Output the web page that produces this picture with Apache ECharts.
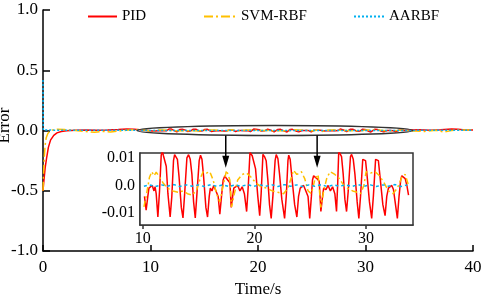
<!DOCTYPE html>
<html><head><meta charset="utf-8">
<script src="https://cdn.jsdelivr.net/npm/echarts@6/dist/echarts.min.js"></script>
<style>html,body{margin:0;padding:0;background:#fff}#c{width:484px;height:295px}</style>
</head><body><div id="c"></div>
<script>
const seriesNames = ['PID', 'SVM-RBF', 'AARBF'];
const xTicks = [0, 10, 20, 30, 40];
const yTickLabels = ['-1.0', '-0.5', '0.0', '0.5', '1.0'];
const insetXTicks = [10, 20, 30];
const insetYTicks = [-0.01, 0, 0.01];
const insetYTickLabels = ['-0.01', '0.0', '0.01'];
const insetRange = [10.1, 33.8];

// [time (s), error]
const pidData = [
  [0,-0.5],[0.08,-0.42],[0.2,-0.31],[0.35,-0.22],[0.5,-0.14],[0.7,-0.08],[1.0,-0.04],[1.3,-0.02],[1.7,-0.008],[2.2,-0.002],
  [3,0.002],[4,0.004],[5,0.002],[6,0.005],[7,0.009],[7.8,0.013],[8.5,0.011],[9.2,0.005],[9.8,0.0],
  [10.15,-0.004],[10.3,-0.009],[10.45,-0.004],[10.55,-0.001],[10.7,-0.0015],[10.85,0.0],[11.0,-0.002],[11.1,-0.0005],[11.2,-0.003],
  [11.35,-0.0115],[11.5,-0.002],[11.65,0.011],[11.75,0.0125],[11.85,0.0108],[11.95,0.0115],[12.1,0.007],[12.25,-0.003],
  [12.45,-0.0115],[12.6,-0.004],[12.75,0.009],[12.85,0.0112],[12.95,0.0105],[13.1,0.0095],[13.25,0.003],[13.45,-0.008],
  [13.6,-0.0118],[13.75,-0.003],[13.95,0.01],[14.1,0.0112],[14.25,0.0095],[14.4,0.004],[14.55,-0.006],
  [14.7,-0.0118],[14.85,-0.003],[15.05,0.009],[15.17,0.011],[15.3,0.0095],[15.45,0.003],[15.65,-0.008],
  [15.8,-0.0115],[15.95,-0.004],[16.05,-0.001],[16.2,-0.002],[16.35,0.0],[16.5,-0.0015],[16.65,-0.001],[16.75,-0.004],
  [16.9,-0.0105],[17.05,-0.004],[17.2,0.002],[17.35,0.0035],[17.5,0.0025],[17.65,0.0028],[17.8,0.001],
  [17.92,-0.008],[18.05,-0.004],[18.15,-0.001],[18.3,-0.0015],[18.5,0.0],[18.7,-0.002],[18.9,-0.0005],[19.1,-0.003],
  [19.3,-0.0095],[19.45,0.0],[19.6,0.012],[19.7,0.0125],[19.8,0.0108],[19.95,0.0113],[20.1,0.006],[20.3,-0.004],
  [20.47,-0.011],[20.6,-0.003],[20.76,0.0113],[20.9,0.0105],[21.05,0.009],[21.2,0.002],[21.35,-0.007],
  [21.5,-0.012],[21.65,-0.004],[21.85,0.009],[21.95,0.0112],[22.1,0.0098],[22.25,0.004],[22.45,-0.005],
  [22.7,-0.012],[22.85,-0.004],[23.0,0.009],[23.07,0.011],[23.2,0.0095],[23.35,0.003],[23.6,-0.007],
  [23.8,-0.0115],[23.95,-0.004],[24.1,-0.001],[24.25,-0.0015],[24.4,0.0],[24.55,-0.0015],[24.7,-0.001],[24.8,-0.004],
  [24.95,-0.012],[25.1,-0.004],[25.2,0.002],[25.3,0.0035],[25.45,0.0028],[25.6,0.0025],[25.8,0.0015],
  [25.95,-0.0095],[26.1,-0.004],[26.2,-0.001],[26.4,-0.0015],[26.6,0.0],[26.8,-0.002],[27.0,-0.0005],[27.2,-0.003],
  [27.35,-0.0095],[27.45,0.0],[27.55,0.0125],[27.65,0.0125],[27.8,0.0105],[27.95,0.004],[28.1,-0.005],
  [28.25,-0.0095],[28.4,-0.002],[28.6,0.0105],[28.7,0.0113],[28.85,0.0095],[29.0,0.004],[29.2,-0.006],
  [29.35,-0.012],[29.5,-0.004],[29.7,0.0095],[29.8,0.0102],[29.95,0.009],[30.1,0.003],[30.3,-0.006],
  [30.5,-0.012],[30.65,-0.004],[30.85,0.0095],[30.95,0.0102],[31.1,0.009],[31.25,0.003],[31.5,-0.007],
  [31.7,-0.011],[31.85,-0.004],[32.0,-0.001],[32.15,-0.0015],[32.3,0.0],[32.45,-0.0015],[32.6,-0.002],
  [32.8,-0.012],[32.95,-0.004],[33.1,0.002],[33.2,0.0035],[33.35,0.0028],[33.5,0.0025],[33.65,0.0],[33.8,-0.0035],
  [34.2,0.004],[35,0.006],[36,0.003],[37,0.007],[38,0.012],[38.6,0.01],[39.3,0.005],[40,0.004]
];
const svmData = [
  [0,-0.5],[0.05,-0.36],[0.12,-0.22],[0.2,-0.12],[0.3,-0.06],[0.45,-0.025],[0.65,-0.005],[0.9,0.005],[1.3,0.01],[2,0.008],
  [3,0.0],[4,-0.008],[4.8,-0.015],[5.5,-0.008],[6.3,-0.012],[7,-0.005],[8,0.005],[9,0.008],[9.6,0.002],
  [10.1,-0.0078],[10.3,-0.004],[10.6,0.003],[10.8,0.005],[11.0,0.0035],[11.2,0.0048],[11.5,0.003],[11.8,0.001],
  [12.2,-0.001],[12.7,-0.002],[13.2,-0.0025],[13.6,-0.002],[14.0,-0.003],[14.4,-0.0035],[14.8,-0.002],[15.1,0.002],
  [15.4,0.005],[15.7,0.0045],[16.0,0.005],[16.3,0.002],[16.6,-0.003],[16.9,-0.006],[17.2,0.0],[17.5,0.0055],[17.8,0.002],
  [17.95,-0.0078],[18.2,-0.003],[18.5,0.002],[18.9,0.004],[19.3,0.0045],[19.7,0.003],[20.1,0.001],[20.6,-0.0005],
  [21.1,-0.001],[21.6,-0.002],[22.1,-0.0025],[22.6,-0.003],[23.0,-0.001],[23.5,0.0055],[23.8,0.004],[24.2,0.005],
  [24.5,0.0025],[24.8,-0.002],[25.1,-0.003],[25.4,0.002],[25.7,0.004],[25.95,-0.008],[26.2,-0.002],[26.5,0.003],
  [26.8,0.005],[27.2,0.004],[27.6,0.0025],[28.0,0.0],[28.3,-0.001],[28.8,-0.002],[29.2,-0.0025],[29.5,-0.003],
  [29.8,0.0],[30.0,0.005],[30.4,0.0045],[30.8,0.005],[31.2,0.0035],[31.6,0.001],[32.0,-0.002],[32.4,-0.003],
  [32.8,-0.001],[33.2,0.003],[33.5,0.004],[33.8,0.0],
  [34.5,-0.005],[35.5,-0.008],[36.5,0.002],[37.3,-0.012],[38,0.0],[39,0.005],[40,0.003]
];
const aarbfData = [
  [0,0.42],[0.03,0.004],[1,0.003],[2,0.002],[3,0.003],[4,0.002],[5,0.003],[6,0.002],[7,0.002],[8,0.003],[9,0.002],[9.8,0.001],
  [10.1,-0.0003],[10.6,0.0002],[11.1,-0.0004],[11.7,0.0002],[12.2,-0.0003],[12.8,0.0003],[13.3,-0.0004],[13.9,0.0002],
  [14.4,-0.0003],[15.0,0.0002],[15.5,-0.0004],[16.1,0.0003],[16.6,-0.0003],[17.2,0.0002],[17.7,-0.0004],[18.3,0.0002],
  [18.8,-0.0003],[19.4,0.0003],[19.9,-0.0004],[20.5,0.0002],[21.0,-0.0003],[21.6,0.0002],[22.1,-0.0004],[22.7,0.0003],
  [23.2,-0.0003],[23.8,0.0002],[24.3,-0.0004],[24.9,0.0002],[25.4,-0.0003],[26.0,0.0003],[26.5,-0.0004],[27.1,0.0002],
  [27.6,-0.0003],[28.2,0.0002],[28.7,-0.0004],[29.3,0.0003],[29.8,-0.0003],[30.4,0.0002],[30.9,-0.0004],[31.5,0.0002],
  [32.0,-0.0003],[32.6,0.0003],[33.1,-0.0004],[33.7,0.0002],
  [34.5,0.001],[36,0.002],[38,0.002],[40,0.002]
];
// zoomed annotation: ellipse span on main axis, arrow positions
const ellipseSpan = [8.75, 34.4];
const arrowTimes = [17.0, 25.5];

const FONT = 'Liberation Serif';
const colors = ['#ff0000', '#ffc000', '#00b0f0'];
const dashes = ['solid', [9, 3, 2, 3], [2, 2]];
const insetDashes = ['solid', [6, 3, 2, 3], [3, 3]];
const datasets = [pidData, svmData, aarbfData];
const inInset = d => d.filter(p => p[0] >= insetRange[0] && p[0] <= insetRange[1]);

const chart = echarts.init(document.getElementById('c'), null, {renderer: 'canvas'});

const series = [];
datasets.forEach((d, i) => {
  series.push({
    name: seriesNames[i], type: 'line', xAxisIndex: 0, yAxisIndex: 0, data: d,
    symbol: 'none', showSymbol: false, animation: false, z: 2 + i,
    lineStyle: {color: colors[i], width: 1.5, type: dashes[i]}, itemStyle: {color: colors[i]}
  });
});
datasets.forEach((d, i) => {
  series.push({
    name: seriesNames[i], type: 'line', xAxisIndex: 1, yAxisIndex: 1, data: inInset(d),
    symbol: 'none', showSymbol: false, animation: false, z: 2 + i,
    lineStyle: {color: colors[i], width: 1.5, type: insetDashes[i]}, itemStyle: {color: colors[i]}
  });
});

const legendBase = {
  top: 9, itemHeight: 14, selectedMode: false, padding: 0,
  itemStyle: {opacity: 0, borderWidth: 0},
  lineStyle: {width: 2},
  textStyle: {fontFamily: FONT, fontSize: 15, color: '#000'}
};

chart.setOption({
  animation: false,
  backgroundColor: '#fff',
  legend: [
    Object.assign({}, legendBase, {data: [seriesNames[0]], left: 87, itemWidth: 29}),
    Object.assign({}, legendBase, {data: [seriesNames[1]], left: 203, itemWidth: 32}),
    Object.assign({}, legendBase, {data: [seriesNames[2]], left: 353, itemWidth: 30})
  ],
  grid: [
    {left: 43, right: 11, top: 10, bottom: 44, containLabel: false, outerBoundsMode: 'none'},
    {left: 140, right: 71, top: 153, bottom: 70, containLabel: false, outerBoundsMode: 'none',
     show: true, backgroundColor: '#fff', borderColor: '#333', borderWidth: 1.5, z: 1}
  ],
  xAxis: [
    {
      type: 'value', gridIndex: 0, min: 0, max: 40, interval: 10,
      name: 'Time/s', nameLocation: 'middle', nameGap: 27,
      nameTextStyle: {fontFamily: FONT, fontSize: 17, color: '#000'},
      axisLine: {show: true, onZero: false, lineStyle: {color: '#000', width: 1.5}},
      axisTick: {show: true, inside: true, length: 6, lineStyle: {color: '#000', width: 1.5}},
      axisLabel: {fontFamily: FONT, fontSize: 17, color: '#000', margin: 8},
      splitLine: {show: false}
    },
    {
      type: 'value', gridIndex: 1, min: 9.75, max: 34.2,
      axisLine: {show: true, onZero: false, lineStyle: {color: '#333', width: 1.5}},
      axisTick: {show: true, inside: false, length: 4, customValues: insetXTicks, lineStyle: {color: '#333', width: 1.5}},
      axisLabel: {fontFamily: FONT, fontSize: 16, color: '#000', margin: 6, customValues: insetXTicks},
      splitLine: {show: false}
    }
  ],
  yAxis: [
    {
      type: 'value', gridIndex: 0, min: -1, max: 1, interval: 0.5,
      name: 'Error', nameLocation: 'middle', nameGap: 30, nameMoveOverlap: false,
      nameTextStyle: {fontFamily: FONT, fontSize: 17, color: '#000', padding: [0, 0, 0, 10]},
      axisLine: {show: true, onZero: false, lineStyle: {color: '#000', width: 1.5}},
      axisTick: {show: true, inside: true, length: 7, lineStyle: {color: '#000', width: 1.5}},
      axisLabel: {fontFamily: FONT, fontSize: 17, color: '#000', margin: 5,
        formatter: v => yTickLabels[Math.round((v + 1) / 0.5)]},
      splitLine: {show: false}
    },
    {
      type: 'value', gridIndex: 1, min: -0.0144, max: 0.0118,
      axisLine: {show: true, onZero: false, lineStyle: {color: '#333', width: 1.5}},
      axisTick: {show: true, inside: true, length: 4, customValues: insetYTicks, lineStyle: {color: '#333', width: 1.5}},
      axisLabel: {fontFamily: FONT, fontSize: 16, color: '#000', margin: 5, customValues: insetYTicks,
        formatter: v => insetYTickLabels[insetYTicks.findIndex(t => Math.abs(t - v) < 1e-6)]},
      splitLine: {show: false}
    }
  ],
  series: series
});

// annotation: ellipse around the zoomed region and arrows to the inset
const pA = chart.convertToPixel({gridIndex: 0}, [ellipseSpan[0], 0]);
const pB = chart.convertToPixel({gridIndex: 0}, [ellipseSpan[1], 0]);
const cx = (pA[0] + pB[0]) / 2, cy = pA[1], rx = (pB[0] - pA[0]) / 2, ry = 5;
const graphics = [{
  type: 'ellipse', shape: {cx: cx, cy: cy, rx: rx, ry: ry}, z: 50,
  style: {fill: 'none', stroke: '#333', lineWidth: 1.5}
}];
const insetTop = chart.convertToPixel({gridIndex: 1}, [20, 0.0064])[1];
arrowTimes.forEach(t => {
  const x = chart.convertToPixel({gridIndex: 0}, [t, 0])[0];
  graphics.push({type: 'line', z: 50, shape: {x1: x, y1: cy + ry, x2: x, y2: insetTop - 10},
    style: {stroke: '#000', lineWidth: 1.5}});
  graphics.push({type: 'polygon', z: 50, shape: {points: [[x - 3.5, insetTop - 12], [x + 3.5, insetTop - 12], [x, insetTop]]},
    style: {fill: '#000'}});
});
chart.setOption({graphic: graphics});
</script>
</body></html>
